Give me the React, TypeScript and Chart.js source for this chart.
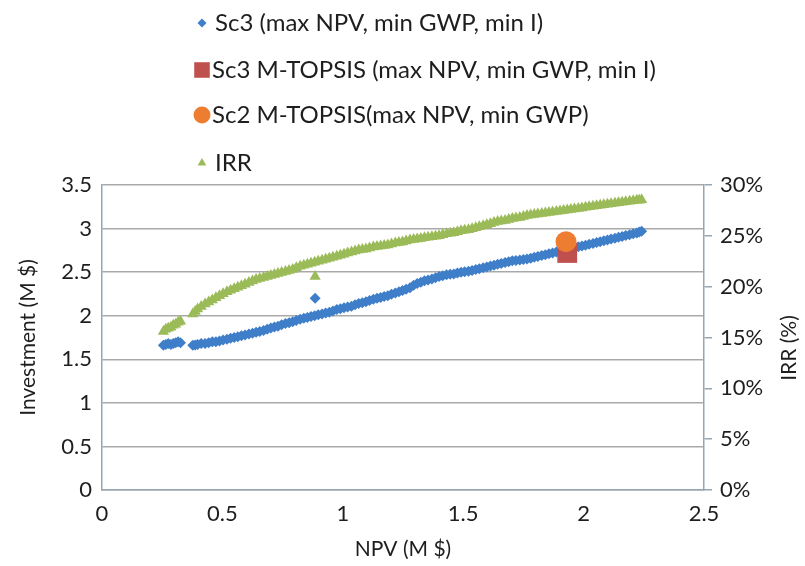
import React, { useEffect, useRef } from 'react';
import { Chart, registerables } from 'chart.js';
import { drawPoint } from 'chart.js/helpers';

Chart.register(...registerables);

// Pareto solutions of Sc3: NPV (M $), Investment (M $), IRR (%)
const sc3Npv = [
  0.255, 0.265, 0.275, 0.286, 0.296, 0.306, 0.316, 0.326,
  0.377, 0.387, 0.397, 0.412, 0.428, 0.443, 0.458, 0.473, 0.488, 0.503,
  0.519, 0.534, 0.549, 0.564, 0.579, 0.594, 0.61, 0.625, 0.64, 0.655,
  0.671, 0.686, 0.701, 0.716, 0.731, 0.746, 0.762, 0.777, 0.792, 0.807,
  0.823, 0.838, 0.853, 0.868, 0.883, 0.885, 0.898, 0.914, 0.929, 0.944,
  0.959, 0.975, 0.99, 1.005, 1.02, 1.036, 1.051, 1.066, 1.081, 1.096,
  1.111, 1.127, 1.142, 1.157, 1.172, 1.187, 1.202, 1.218, 1.233, 1.248,
  1.263, 1.279, 1.294, 1.309, 1.324, 1.339, 1.354, 1.37, 1.385, 1.4,
  1.415, 1.431, 1.446, 1.461, 1.476, 1.491, 1.506, 1.522, 1.537, 1.552,
  1.567, 1.583, 1.598, 1.613, 1.628, 1.643, 1.658, 1.674, 1.689, 1.704,
  1.719, 1.735, 1.75, 1.765, 1.78, 1.795, 1.81, 1.826, 1.841, 1.856,
  1.871, 1.887, 1.902, 1.917, 1.932, 1.947, 1.962, 1.978, 1.993, 2.008,
  2.023, 2.039, 2.054, 2.069, 2.084, 2.099, 2.114, 2.13, 2.145, 2.16,
  2.175, 2.191, 2.206, 2.221, 2.231, 2.241,
];
const sc3Investment = [
  1.66, 1.67, 1.68, 1.67, 1.68, 1.69, 1.7, 1.69,
  1.66, 1.665, 1.67, 1.68, 1.68, 1.69, 1.7, 1.7, 1.71, 1.72,
  1.73, 1.74, 1.75, 1.76, 1.77, 1.78, 1.79, 1.8, 1.81, 1.82,
  1.83, 1.845, 1.86, 1.87, 1.88, 1.895, 1.91, 1.92, 1.93, 1.945,
  1.96, 1.97, 1.98, 1.99, 2.0, 2.2, 2.01, 2.02, 2.03, 2.04,
  2.055, 2.07, 2.08, 2.09, 2.1, 2.11, 2.125, 2.14, 2.15, 2.16,
  2.175, 2.19, 2.2, 2.21, 2.22, 2.23, 2.245, 2.26, 2.275, 2.29,
  2.305, 2.32, 2.35, 2.37, 2.385, 2.4, 2.41, 2.42, 2.435, 2.45,
  2.46, 2.47, 2.475, 2.48, 2.49, 2.5, 2.505, 2.51, 2.52, 2.53,
  2.54, 2.55, 2.56, 2.57, 2.58, 2.59, 2.6, 2.61, 2.62, 2.63,
  2.635, 2.64, 2.645, 2.65, 2.66, 2.67, 2.68, 2.69, 2.7, 2.71,
  2.72, 2.73, 2.74, 2.75, 2.76, 2.77, 2.78, 2.79, 2.8, 2.81,
  2.82, 2.83, 2.84, 2.85, 2.86, 2.87, 2.88, 2.89, 2.9, 2.91,
  2.92, 2.93, 2.94, 2.95, 2.96, 2.97,
];
const sc3Irr = [
  15.6, 15.8, 15.9, 16.0, 16.2, 16.3, 16.5, 16.6,
  17.3, 17.55, 17.8, 18.05, 18.3, 18.5, 18.7, 18.9, 19.1, 19.3,
  19.5, 19.65, 19.8, 19.95, 20.1, 20.25, 20.4, 20.55, 20.7, 20.8,
  20.9, 21.0, 21.1, 21.2, 21.3, 21.4, 21.5, 21.6, 21.7, 21.85,
  22.0, 22.1, 22.2, 22.3, 22.4, 21.0, 22.5, 22.6, 22.7, 22.8,
  22.9, 23.0, 23.1, 23.2, 23.3, 23.4, 23.5, 23.6, 23.65, 23.7,
  23.8, 23.9, 23.95, 24.0, 24.05, 24.1, 24.2, 24.3, 24.35, 24.4,
  24.5, 24.6, 24.65, 24.7, 24.75, 24.8, 24.85, 24.9, 24.95, 25.0,
  25.1, 25.2, 25.25, 25.3, 25.4, 25.5, 25.55, 25.6, 25.7, 25.8,
  25.9, 26.0, 26.1, 26.2, 26.3, 26.4, 26.45, 26.5, 26.6, 26.7,
  26.75, 26.8, 26.9, 27.0, 27.05, 27.1, 27.15, 27.2, 27.25, 27.3,
  27.35, 27.4, 27.45, 27.5, 27.55, 27.6, 27.65, 27.7, 27.75, 27.8,
  27.85, 27.9, 27.95, 28.0, 28.05, 28.1, 28.15, 28.2, 28.25, 28.3,
  28.35, 28.4, 28.45, 28.5, 28.5, 28.55,
];

const sc3TopsisNpv = [1.932];
const sc3TopsisInvestment = [2.72];
const sc2TopsisNpv = [1.927];
const sc2TopsisInvestment = [2.85];

const seriesLabels = [
  'Sc3 (max NPV, min GWP, min I)',
  'Sc3 M-TOPSIS (max NPV, min GWP, min I)',
  'Sc2 M-TOPSIS(max NPV, min GWP)',
  'IRR',
];

const xTickStep = 0.5;
const xMax = 2.5;
const yTickStep = 0.5;
const yMax = 3.5;
const irrTickStep = 5;
const irrMax = 30;

const xTitle = 'NPV (M $)';
const yTitle = 'Investment (M $)';
const irrTitle = 'IRR (%)';

const FONT = 'Lato';
const TEXT = '#1e1e1e';
const GRID = '#a9a9a9';
const AXIS = '#97a6b0';

const BLUE = '#3f7ec8';
const RED = '#c0504d';
const ORANGE = '#ed7d31';
const GREEN = '#9bbb59';

const toPoints = (xs: number[], ys: number[]) => xs.map((x, i) => ({ x, y: ys[i] }));

const legendRows = [
  { y: 23, tx: 215, r: 4.5 },
  { y: 70, tx: 212, r: 11 },
  { y: 115, tx: 212, r: 8.5 },
  { y: 163, tx: 215, r: 5 },
];

const overlayPlugin = {
  id: 'overlay',
  afterDraw(chart: any) {
    const ctx: CanvasRenderingContext2D = chart.ctx;
    ctx.save();
    const legendOrder = [0, 1, 2, 3];
    legendOrder.forEach((di, row) => {
      const ds = chart.data.datasets[di];
      const L = legendRows[row];
      ctx.fillStyle = ds.backgroundColor;
      ctx.strokeStyle = ds.backgroundColor;
      drawPoint(ctx, { pointStyle: ds.pointStyle, radius: L.r, rotation: 0, borderWidth: 0 } as any, 202, L.y);
      ctx.fillStyle = TEXT;
      ctx.font = `24px ${FONT}`;
      ctx.textAlign = 'left';
      ctx.textBaseline = 'middle';
      ctx.fillText(ds.label, L.tx, L.y);
    });
    // right axis title, reading bottom-to-top
    ctx.translate(789, 348);
    ctx.rotate(-Math.PI / 2);
    ctx.font = `21px ${FONT}`;
    ctx.textAlign = 'center';
    ctx.textBaseline = 'middle';
    ctx.fillStyle = TEXT;
    ctx.fillText(irrTitle, 0, 0);
    ctx.restore();
  },
};

const plainNumber = (v: any) => `${Math.round(Number(v) * 100) / 100}`;

export default function App() {
  const ref = useRef<HTMLCanvasElement>(null);
  useEffect(() => {
    const chart = new Chart(ref.current as HTMLCanvasElement, {
      type: 'scatter',
      data: {
        datasets: [
          {
            label: seriesLabels[0],
            data: toPoints(sc3Npv, sc3Investment),
            pointStyle: 'rectRot',
            pointRadius: 5.5,
            backgroundColor: BLUE,
            borderColor: BLUE,
            borderWidth: 0,
            yAxisID: 'y',
            order: 3,
          },
          {
            label: seriesLabels[1],
            data: toPoints(sc3TopsisNpv, sc3TopsisInvestment),
            pointStyle: 'rect',
            pointRadius: 14,
            backgroundColor: RED,
            borderColor: RED,
            borderWidth: 0,
            yAxisID: 'y',
            order: 2,
          },
          {
            label: seriesLabels[2],
            data: toPoints(sc2TopsisNpv, sc2TopsisInvestment),
            pointStyle: 'circle',
            pointRadius: 10.5,
            backgroundColor: ORANGE,
            borderColor: ORANGE,
            borderWidth: 0,
            yAxisID: 'y',
            order: 1,
          },
          {
            label: seriesLabels[3],
            data: toPoints(sc3Npv, sc3Irr),
            pointStyle: 'triangle',
            pointRadius: 6.5,
            backgroundColor: GREEN,
            borderColor: GREEN,
            borderWidth: 0,
            yAxisID: 'y1',
            order: 4,
          },
        ] as any,
      },
      options: {
        animation: false,
        responsive: false,
        events: [],
        layout: { padding: { top: 185, left: 0, right: 0, bottom: 0 } },
        plugins: { legend: { display: false }, tooltip: { enabled: false } },
        scales: {
          x: {
            type: 'linear',
            min: 0,
            max: xMax,
            ticks: {
              stepSize: xTickStep,
              font: { family: FONT, size: 22 },
              color: TEXT,
              padding: 11,
              callback: plainNumber,
            },
            grid: { display: false, drawTicks: false },
            border: { display: true, color: AXIS, width: 1.5 },
            title: {
              display: true,
              text: xTitle,
              font: { family: FONT, size: 21 },
              color: TEXT,
              padding: { top: 0, bottom: 4 },
            },
            afterFit: (s: any) => {
              s.height = 76;
            },
          },
          y: {
            type: 'linear',
            position: 'left',
            min: 0,
            max: yMax,
            ticks: {
              stepSize: yTickStep,
              font: { family: FONT, size: 22 },
              color: TEXT,
              padding: 10,
              callback: plainNumber,
            },
            grid: { color: GRID, lineWidth: 1.5, drawTicks: false },
            border: { display: true, color: AXIS, width: 1.5 },
            title: {
              display: true,
              text: yTitle,
              font: { family: FONT, size: 21 },
              color: TEXT,
              padding: { top: 16, bottom: 0 },
            },
            afterFit: (s: any) => {
              s.width = 102;
            },
          },
          y1: {
            type: 'linear',
            position: 'right',
            min: 0,
            max: irrMax,
            ticks: {
              stepSize: irrTickStep,
              font: { family: FONT, size: 22 },
              color: TEXT,
              padding: 8,
              callback: (v: any) => `${v}%`,
            },
            grid: { drawOnChartArea: false, drawTicks: true, tickLength: 8, color: AXIS, lineWidth: 1.5 },
            border: { display: true, color: AXIS, width: 1.5 },
            afterFit: (s: any) => {
              s.width = 101;
            },
          },
        },
      } as any,
      plugins: [overlayPlugin],
    });
    return () => chart.destroy();
  }, []);
  return (
    <div style={{ position: 'absolute', left: 0, top: 0, width: 805, height: 566, background: '#fff' }}>
      <canvas ref={ref} width={805} height={566} style={{ display: 'block' }} />
    </div>
  );
}
